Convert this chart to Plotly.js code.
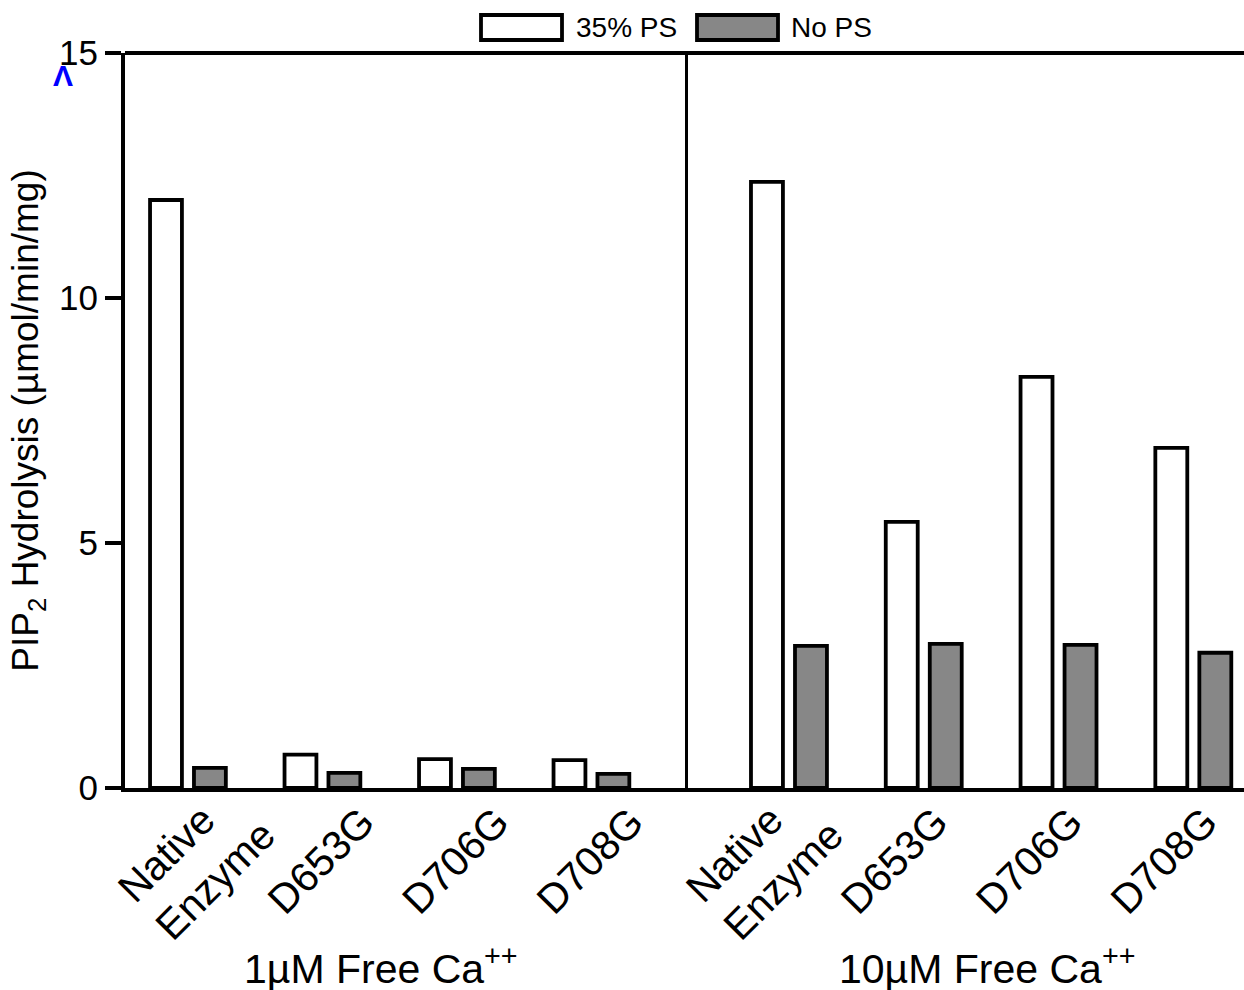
<!DOCTYPE html>
<html>
<head>
<meta charset="utf-8">
<script src="https://cdn.plot.ly/plotly-3.0.1.min.js"></script>
<style>
html,body{margin:0;padding:0;background:#fff;}
#chart{width:1244px;height:990px;}
</style>
</head>
<body>
<div id="chart"></div>
<script>
// Data
var categories = ["Native Enzyme", "D653G", "D706G", "D708G"];
var ps35_1uM  = [12.0, 0.68, 0.59, 0.57];
var noPS_1uM  = [0.41, 0.31, 0.39, 0.29];
var ps35_10uM = [12.37, 5.43, 8.39, 6.94];
var noPS_10uM = [2.90, 2.94, 2.92, 2.76];
var seriesNames = ["35% PS", "No PS"];
var panelLabels = ["1\u00b5M Free Ca<sup>++</sup>", "10\u00b5M Free Ca<sup>++</sup>"];
var yTicks = [0, 5, 10, 15];

var FONT = "Liberation Sans, Arial, Helvetica, sans-serif";
var WHITE = "#ffffff", GRAY = "#878787", BLACK = "#000000";
var lineW = 3.8;

function bar(x, y, name, color, xa, ya) {
  return {
    type: "bar", x: x, y: y, name: name, xaxis: xa, yaxis: ya,
    marker: {color: color, line: {color: BLACK, width: lineW}},
    showlegend: false, hoverinfo: "x+y+name"
  };
}

var data = [
  bar(categories, ps35_1uM, seriesNames[0], WHITE, "x", "y"),
  bar(categories, noPS_1uM, seriesNames[1], GRAY, "x", "y"),
  bar(categories, ps35_10uM, seriesNames[0], WHITE, "x2", "y2"),
  bar(categories, noPS_10uM, seriesNames[1], GRAY, "x2", "y2")
];

var W = 1244, H = 990, ml = 125, mr = 0, mt = 53, mb = 202;
var pw = W - ml - mr;
var split = (688 - ml) / pw;
function px(x) { return (x - ml) / pw; }
function py(y) { return 1 - (y - mt) / (H - mt - mb); }

var leftRange = [-0.468, 3.718], rightRange = [-0.749, 3.376];
var tickFont = {family: FONT, size: 41, color: BLACK};

// the two-line first label is drawn left-aligned as a rotated annotation at its category
var firstLabelText = categories[0].split(" ").join("<br>");

var xCommon = {
  type: "category", showline: true, linewidth: 3.5, linecolor: BLACK, mirror: false,
  ticks: "", showgrid: false, zeroline: false, tickangle: -45,
  tickmode: "array", tickvals: categories.slice(1), ticktext: categories.slice(1),
  tickfont: tickFont, ticklabelstandoff: -10, fixedrange: true
};

var layout = {
  width: W, height: H,
  margin: {l: ml, r: mr, t: mt, b: mb},
  paper_bgcolor: "#fff", plot_bgcolor: "#fff",
  barmode: "group", bargap: 0.347, bargroupgap: 0.274,
  font: {family: FONT, color: BLACK},
  showlegend: false,
  xaxis: Object.assign({}, xCommon, {domain: [0, split], range: leftRange, anchor: "y", ticklabelshift: 40}),
  xaxis2: Object.assign({}, xCommon, {domain: [split, 1], range: rightRange, anchor: "y2", ticklabelshift: 12}),
  yaxis: {
    range: [0, 15], tickvals: yTicks, ticktext: yTicks.map(String),
    showline: true, linewidth: 4, linecolor: BLACK,
    ticks: "outside", ticklen: 16, tickwidth: 3.5, tickcolor: BLACK,
    showgrid: false, zeroline: false,
    tickfont: {family: FONT, size: 35, color: BLACK},
    title: {text: "PIP<sub>2</sub> Hydrolysis (\u00b5mol/min/mg)", font: {family: FONT, size: 37, color: BLACK}, standoff: 10},
    anchor: "x", fixedrange: true
  },
  yaxis2: {
    range: [0, 15], matches: "y", showline: true, linewidth: 3.5, linecolor: BLACK,
    ticks: "", showticklabels: false, showgrid: false, zeroline: false,
    anchor: "x2", fixedrange: true
  },
  shapes: [
    {type: "line", xref: "paper", yref: "paper", x0: 0, x1: 1, y0: 1, y1: 1,
     line: {color: BLACK, width: 4}},
    {type: "rect", xref: "paper", yref: "paper", x0: px(481), x1: px(562), y0: py(15), y1: py(40),
     line: {color: BLACK, width: 3.8}, fillcolor: WHITE},
    {type: "rect", xref: "paper", yref: "paper", x0: px(697), x1: px(778), y0: py(15), y1: py(40),
     line: {color: BLACK, width: 3.8}, fillcolor: GRAY}
  ],
  annotations: [
    {xref: "x", yref: "paper", x: categories[0], y: py(861), xshift: 8, xanchor: "center", yanchor: "middle",
     text: firstLabelText, align: "left", textangle: -45, showarrow: false, font: tickFont},
    {xref: "x2", yref: "paper", x: categories[0], y: py(861), xshift: -25, xanchor: "center", yanchor: "middle",
     text: firstLabelText, align: "left", textangle: -45, showarrow: false, font: tickFont},
    {xref: "paper", yref: "paper", x: px(574), y: py(28), xanchor: "left", yanchor: "middle",
     text: seriesNames[0], showarrow: false, font: {family: FONT, size: 28, color: BLACK}},
    {xref: "paper", yref: "paper", x: px(789), y: py(28), xanchor: "left", yanchor: "middle",
     text: seriesNames[1], showarrow: false, font: {family: FONT, size: 28, color: BLACK}},
    {xref: "paper", yref: "paper", x: px(381), y: py(966), xanchor: "center", yanchor: "middle",
     text: panelLabels[0], showarrow: false, font: {family: FONT, size: 41, color: BLACK}},
    {xref: "paper", yref: "paper", x: px(987), y: py(966), xanchor: "center", yanchor: "middle",
     text: panelLabels[1], showarrow: false, font: {family: FONT, size: 41, color: BLACK}},
    {xref: "paper", yref: "paper", x: px(63), y: py(76), xanchor: "center", yanchor: "middle",
     text: "<b>\u039b</b>", showarrow: false, font: {family: FONT, size: 30, color: "#0000ff"}}
  ]
};

Plotly.newPlot("chart", data, layout, {displayModeBar: false, staticPlot: true});
</script>
</body>
</html>
